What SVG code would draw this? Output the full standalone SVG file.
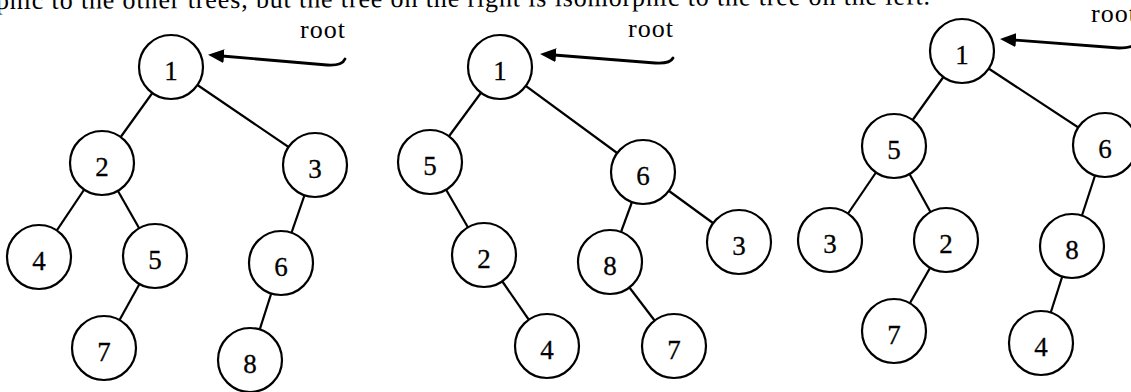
<svg xmlns="http://www.w3.org/2000/svg" width="1131" height="392" viewBox="0 0 1131 392">
<style>
.n circle{fill:#fff;stroke:#000;stroke-width:2.2}
.n text{font-family:"Liberation Serif",serif;font-size:27px;text-anchor:middle;fill:#000;stroke:#000;stroke-width:0.3}
.e line{stroke:#000;stroke-width:2.2}
.lbl{font-family:"Liberation Serif",serif;font-size:26px;fill:#000}
.hdr{font-family:"Liberation Serif",serif;font-size:26px;fill:#000}
.arr{fill:none;stroke:#000;stroke-width:2.8;stroke-linecap:round}
</style>
<defs>
<marker id="ah" viewBox="0 0 16 14" refX="2" refY="7" markerWidth="16" markerHeight="14" markerUnits="userSpaceOnUse" orient="auto">
<path d="M0,0 L16,7 L0,14 Z" fill="#000"/>
</marker>
</defs>
<rect width="1131" height="392" fill="#fff"/>
<text class="hdr" x="-4" y="9" textLength="934" lengthAdjust="spacing" transform="rotate(-0.28 0 9)">phic to the other trees, but the tree on the right is isomorphic to the tree on the left.</text>
<g id="connectors" class="e">
<line x1="171" y1="67" x2="102" y2="163"/>
<line x1="171" y1="67" x2="315" y2="165"/>
<line x1="102" y1="163" x2="39" y2="257"/>
<line x1="102" y1="163" x2="155" y2="256"/>
<line x1="155" y1="256" x2="104" y2="348"/>
<line x1="315" y1="165" x2="281" y2="263"/>
<line x1="281" y1="263" x2="250" y2="360"/>
<line x1="500" y1="67" x2="430" y2="162"/>
<line x1="500" y1="67" x2="643" y2="172"/>
<line x1="430" y1="162" x2="484" y2="255"/>
<line x1="484" y1="255" x2="547" y2="346"/>
<line x1="643" y1="172" x2="610" y2="262"/>
<line x1="643" y1="172" x2="739" y2="242"/>
<line x1="610" y1="262" x2="674" y2="346"/>
<line x1="962" y1="51" x2="894" y2="146"/>
<line x1="962" y1="51" x2="1105" y2="145"/>
<line x1="894" y1="146" x2="830" y2="240"/>
<line x1="894" y1="146" x2="946" y2="240"/>
<line x1="946" y1="240" x2="894" y2="331"/>
<line x1="1105" y1="145" x2="1072" y2="246"/>
<line x1="1072" y1="246" x2="1041" y2="343"/>
<path class="arr" d="M345,59 Q342,66 327,65 L222,56" marker-end="url(#ah)"/>
<path class="arr" d="M673,58 Q670,64 655,63 L554,55" marker-end="url(#ah)"/>
<path class="arr" d="M1137,42 Q1134,48 1119,48 L1014,40" marker-end="url(#ah)"/>
</g>
<text class="lbl" x="300" y="38" textLength="45" lengthAdjust="spacing">root</text>
<text class="lbl" x="628" y="37" textLength="45" lengthAdjust="spacing">root</text>
<text class="lbl" x="1091" y="22" textLength="45" lengthAdjust="spacing">root</text>
<g id="t1n1" class="n"><circle cx="171" cy="67" r="32"/><text x="171" y="80">1</text></g>
<g id="t1n2" class="n"><circle cx="102" cy="163" r="32"/><text x="102" y="176">2</text></g>
<g id="t1n3" class="n"><circle cx="315" cy="165" r="32"/><text x="315" y="178">3</text></g>
<g id="t1n4" class="n"><circle cx="39" cy="257" r="32"/><text x="39" y="270">4</text></g>
<g id="t1n5" class="n"><circle cx="155" cy="256" r="32"/><text x="155" y="269">5</text></g>
<g id="t1n6" class="n"><circle cx="281" cy="263" r="32"/><text x="281" y="276">6</text></g>
<g id="t1n7" class="n"><circle cx="104" cy="348" r="32"/><text x="104" y="361">7</text></g>
<g id="t1n8" class="n"><circle cx="250" cy="360" r="32"/><text x="250" y="373">8</text></g>
<g id="t2n1" class="n"><circle cx="500" cy="67" r="32"/><text x="500" y="80">1</text></g>
<g id="t2n5" class="n"><circle cx="430" cy="162" r="32"/><text x="430" y="175">5</text></g>
<g id="t2n6" class="n"><circle cx="643" cy="172" r="32"/><text x="643" y="185">6</text></g>
<g id="t2n2" class="n"><circle cx="484" cy="255" r="32"/><text x="484" y="268">2</text></g>
<g id="t2n8" class="n"><circle cx="610" cy="262" r="32"/><text x="610" y="275">8</text></g>
<g id="t2n3" class="n"><circle cx="739" cy="242" r="32"/><text x="739" y="255">3</text></g>
<g id="t2n4" class="n"><circle cx="547" cy="346" r="32"/><text x="547" y="359">4</text></g>
<g id="t2n7" class="n"><circle cx="674" cy="346" r="32"/><text x="674" y="359">7</text></g>
<g id="t3n1" class="n"><circle cx="962" cy="51" r="32"/><text x="962" y="64">1</text></g>
<g id="t3n5" class="n"><circle cx="894" cy="146" r="32"/><text x="894" y="159">5</text></g>
<g id="t3n6" class="n"><circle cx="1105" cy="145" r="32"/><text x="1105" y="158">6</text></g>
<g id="t3n3" class="n"><circle cx="830" cy="240" r="32"/><text x="830" y="253">3</text></g>
<g id="t3n2" class="n"><circle cx="946" cy="240" r="32"/><text x="946" y="253">2</text></g>
<g id="t3n8" class="n"><circle cx="1072" cy="246" r="32"/><text x="1072" y="259">8</text></g>
<g id="t3n7" class="n"><circle cx="894" cy="331" r="32"/><text x="894" y="344">7</text></g>
<g id="t3n4" class="n"><circle cx="1041" cy="343" r="32"/><text x="1041" y="356">4</text></g>
</svg>
